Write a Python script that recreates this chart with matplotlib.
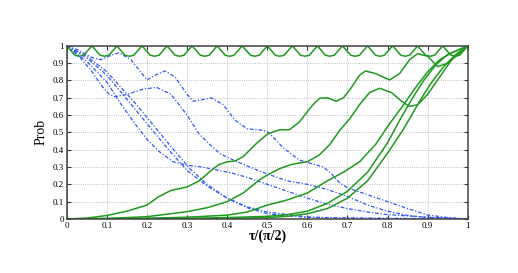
import matplotlib
matplotlib.use("Agg")
import matplotlib.pyplot as plt
import numpy as np

# green curve near 1 (fast small oscillation): peaks, valley shoulders, valleys
top_peak_x = [0.0, 0.0625, 0.125, 0.1875, 0.25, 0.3125, 0.375, 0.4375, 0.5,
              0.5625, 0.625, 0.6875, 0.75, 0.8125, 0.875, 0.9375, 1.0]
top_valley_x = [0.031, 0.094, 0.156, 0.219, 0.281, 0.344, 0.406, 0.469,
                0.531, 0.594, 0.656, 0.719, 0.781, 0.844, 0.906, 0.969]
top_peak_y = 1.0
top_valley_y = 0.94
top_shoulder_y = 0.946

# rising (green) curves
g1_x = [0, 0.05, 0.1, 0.15, 0.2, 0.23, 0.26, 0.3, 0.33, 0.36, 0.38, 0.4, 0.42,
        0.44, 0.47, 0.5, 0.53, 0.555, 0.58, 0.6, 0.614, 0.631, 0.65, 0.672,
        0.69, 0.71, 0.73, 0.745, 0.77, 0.805, 0.83, 0.855, 0.875, 0.9, 0.925,
        0.95, 0.975, 1.0]
g1_y = [0, 0.005, 0.02, 0.045, 0.08, 0.13, 0.165, 0.185, 0.22, 0.28, 0.315,
        0.33, 0.335, 0.36, 0.43, 0.49, 0.515, 0.515, 0.56, 0.62, 0.66, 0.698,
        0.70, 0.68, 0.70, 0.76, 0.83, 0.855, 0.84, 0.803, 0.84, 0.92, 0.955,
        0.94, 0.88, 0.90, 0.95, 1.0]

g2_x = [0, 0.1, 0.2, 0.3, 0.35, 0.4, 0.44, 0.48, 0.5, 0.53, 0.56, 0.6, 0.63,
        0.656, 0.68, 0.706, 0.73, 0.755, 0.78, 0.81, 0.835, 0.855, 0.875, 0.9,
        0.93, 0.96, 1.0]
g2_y = [0, 0.003, 0.013, 0.042, 0.065, 0.10, 0.15, 0.225, 0.254, 0.29, 0.315,
        0.331, 0.37, 0.43, 0.51, 0.58, 0.66, 0.73, 0.755, 0.73, 0.68, 0.65,
        0.66, 0.72, 0.82, 0.92, 1.0]

g3_x = [0, 0.2, 0.3, 0.4, 0.45, 0.5, 0.55, 0.6, 0.65, 0.69, 0.73, 0.77, 0.805,
        0.84, 0.87, 0.9, 0.93, 0.96, 1.0]
g3_y = [0, 0.004, 0.01, 0.022, 0.04, 0.08, 0.11, 0.15, 0.22, 0.27, 0.33, 0.43,
        0.55, 0.66, 0.76, 0.85, 0.92, 0.96, 1.0]

g4_x = [0, 0.3, 0.4, 0.5, 0.55, 0.6, 0.65, 0.7, 0.75, 0.8, 0.83, 0.86, 0.89,
        0.92, 0.95, 1.0]
g4_y = [0, 0.003, 0.008, 0.015, 0.025, 0.045, 0.09, 0.16, 0.27, 0.44, 0.57,
        0.69, 0.80, 0.89, 0.95, 1.0]

g5_x = [0, 0.4, 0.5, 0.55, 0.6, 0.65, 0.7, 0.75, 0.8, 0.84, 0.88, 0.91, 0.94,
        0.97, 1.0]
g5_y = [0, 0.003, 0.008, 0.015, 0.03, 0.06, 0.12, 0.22, 0.38, 0.52, 0.68, 0.79,
        0.88, 0.95, 1.0]

# falling (blue) curves
b1_x = [0, 0.03, 0.06, 0.085, 0.11, 0.13, 0.16, 0.2, 0.22, 0.245, 0.27, 0.3,
        0.315, 0.34, 0.36, 0.39, 0.42, 0.45, 0.48, 0.5, 0.52, 0.54, 0.58, 0.61,
        0.64, 0.66, 0.68, 0.7, 0.75, 0.8, 0.85, 0.9, 0.95, 1.0]
b1_y = [1, 0.975, 0.935, 0.92, 0.945, 0.96, 0.92, 0.803, 0.83, 0.855, 0.82,
        0.72, 0.68, 0.69, 0.70, 0.66, 0.57, 0.52, 0.515, 0.505, 0.46, 0.41,
        0.34, 0.32, 0.30, 0.26, 0.21, 0.18, 0.14, 0.10, 0.06, 0.023, 0.008, 0]

b2_x = [0, 0.03, 0.06, 0.09, 0.107, 0.12, 0.15, 0.19, 0.224, 0.26, 0.28, 0.3,
        0.33, 0.357, 0.38, 0.406, 0.456, 0.5, 0.55, 0.6, 0.65, 0.7, 0.75, 0.8,
        0.85, 0.9, 1.0]
b2_y = [1, 0.94, 0.86, 0.76, 0.717, 0.707, 0.72, 0.75, 0.76, 0.72, 0.66, 0.60,
        0.49, 0.43, 0.38, 0.35, 0.30, 0.26, 0.22, 0.20, 0.17, 0.13, 0.08, 0.045,
        0.02, 0.008, 0]

b3_x = [0, 0.05, 0.1, 0.136, 0.17, 0.2, 0.23, 0.265, 0.3, 0.332, 0.37, 0.414,
        0.45, 0.5, 0.55, 0.6, 0.65, 0.7, 0.75, 0.8, 0.9, 1.0]
b3_y = [1, 0.91, 0.79, 0.66, 0.55, 0.46, 0.39, 0.33, 0.31, 0.302, 0.285, 0.264,
        0.24, 0.20, 0.16, 0.12, 0.085, 0.06, 0.04, 0.025, 0.01, 0]

b4_x = [0, 0.05, 0.1, 0.161, 0.2, 0.25, 0.3, 0.35, 0.4, 0.45, 0.5, 0.6, 0.7, 1.0]
b4_y = [1, 0.93, 0.83, 0.66, 0.55, 0.41, 0.28, 0.19, 0.12, 0.07, 0.04, 0.012,
        0.004, 0]

b5_x = [0, 0.05, 0.1, 0.174, 0.22, 0.27, 0.307, 0.35, 0.4, 0.45, 0.5, 0.6, 1.0]
b5_y = [1, 0.94, 0.85, 0.66, 0.53, 0.39, 0.29, 0.20, 0.12, 0.065, 0.03, 0.008, 0]

ticks = [0, 0.1, 0.2, 0.3, 0.4, 0.5, 0.6, 0.7, 0.8, 0.9, 1]
tick_labels = ["0", "0.1", "0.2", "0.3", "0.4", "0.5", "0.6", "0.7", "0.8", "0.9", "1"]

plt.rcParams['font.family'] = ['Liberation Serif', 'DejaVu Serif']

fig = plt.figure(figsize=(5.18, 2.73), dpi=100)
ax = fig.add_axes([0.129, 0.198, 0.774, 0.634])

blue = '#2f55ff'
green = '#1e9a1e'

for bx, by in [(b1_x, b1_y), (b2_x, b2_y), (b3_x, b3_y), (b4_x, b4_y), (b5_x, b5_y)]:
    ax.plot(bx, by, color=blue, linestyle='-.', linewidth=0.9, dashes=(3, 1.5, 1, 1.5))

for gx, gy in [(g1_x, g1_y), (g2_x, g2_y), (g3_x, g3_y), (g4_x, g4_y), (g5_x, g5_y)]:
    ax.plot(gx, gy, color=green, linewidth=1.1)

# fast oscillation near 1 (starts from 0 at tau=0)
shoulder_x = [v - 0.011 for v in top_valley_x] + [v + 0.011 for v in top_valley_x]
top_pts = sorted([(x, top_peak_y) for x in top_peak_x]
                 + [(x, top_valley_y) for x in top_valley_x]
                 + [(x, top_shoulder_y) for x in shoulder_x])
top_x = [0.0] + [p[0] for p in top_pts]
top_y = [0.0] + [p[1] for p in top_pts]
ax.plot(top_x, top_y, color=green, linewidth=1.1)

ax.set_xlim(0, 1)
ax.set_ylim(0, 1)
ax.set_xticks(ticks)
ax.set_xticklabels(tick_labels)
ax.set_yticks(ticks)
ax.set_yticklabels(tick_labels)
ax.tick_params(direction='in', length=3, width=0.8, labelsize=6.5, pad=2,
               top=True, right=True, colors='#333333', labelcolor='black')
ax.grid(True, linestyle=':', color='#aaaaaa', linewidth=0.6)
for s in ax.spines.values():
    s.set_color('#444444')
    s.set_linewidth(1.1)

ax.set_ylabel('Prob', fontsize=10, labelpad=4)
ax.set_xlabel('τ/(π/2)', fontsize=10, fontweight='bold', labelpad=0)

fig.savefig('out.png', dpi=100)
